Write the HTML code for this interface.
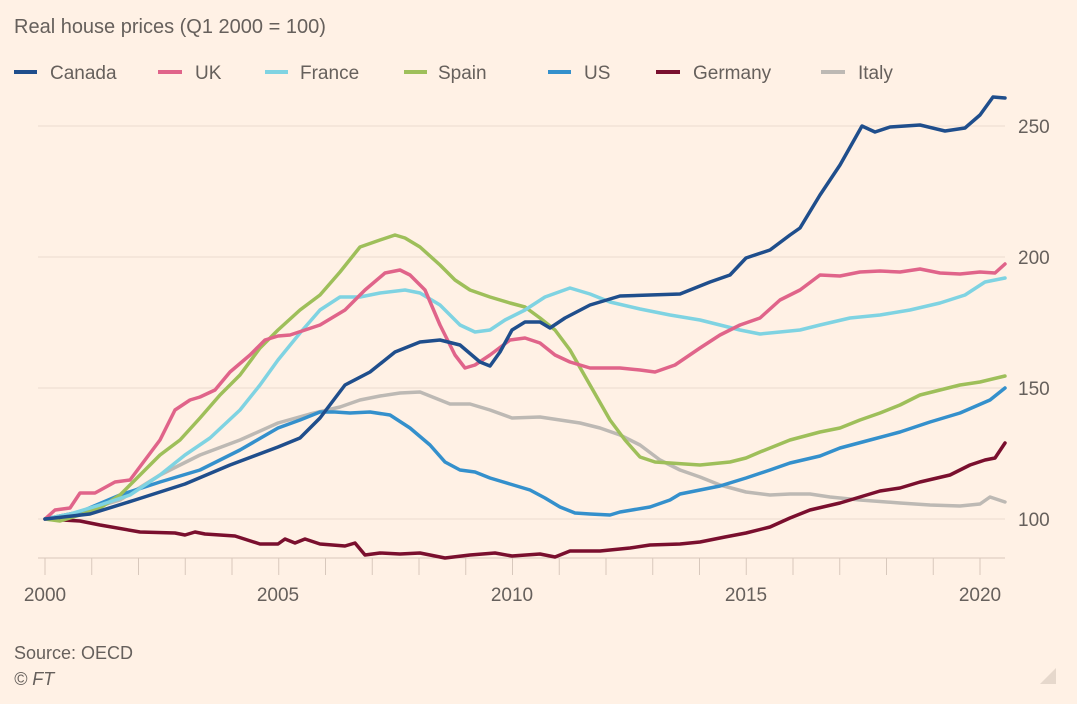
<!DOCTYPE html>
<html><head><meta charset="utf-8"><style>
body{margin:0;background:#fff1e5;}
svg{display:block;font-family:"Liberation Sans",sans-serif;}
</style></head><body>
<svg width="1077" height="704" viewBox="0 0 1077 704">
<rect width="1077" height="704" fill="#fff1e5"/>
<text x="14" y="33" font-size="20" fill="#66605c">Real house prices (Q1 2000 = 100)</text>
<g font-size="19" fill="#66605c">
<line x1="14" y1="72" x2="37" y2="72" stroke="#1f4e8c" stroke-width="4"/><text x="50" y="79">Canada</text>
<line x1="158" y1="72" x2="182" y2="72" stroke="#e0648a" stroke-width="4"/><text x="195" y="79">UK</text>
<line x1="265" y1="72" x2="288" y2="72" stroke="#7fd3e2" stroke-width="4"/><text x="300" y="79">France</text>
<line x1="404" y1="72" x2="427" y2="72" stroke="#9ebf5a" stroke-width="4"/><text x="438" y="79">Spain</text>
<line x1="548" y1="72" x2="571" y2="72" stroke="#3490cc" stroke-width="4"/><text x="584" y="79">US</text>
<line x1="656" y1="72" x2="680" y2="72" stroke="#7a0f2e" stroke-width="4"/><text x="693" y="79">Germany</text>
<line x1="821" y1="72" x2="845" y2="72" stroke="#bdb9b4" stroke-width="4"/><text x="858" y="79">Italy</text>
</g>
<g stroke="#ebdcd0" stroke-width="1">
<line x1="38" y1="126" x2="1005" y2="126"/><line x1="38" y1="257" x2="1005" y2="257"/>
<line x1="38" y1="388" x2="1005" y2="388"/><line x1="38" y1="519" x2="1005" y2="519"/>
</g>
<line x1="38" y1="558" x2="1005" y2="558" stroke="#d8c8bc" stroke-width="1"/>
<g id="ticks" stroke="#d8c8bc" stroke-width="1"></g>
<g font-size="19" fill="#66605c">
<text x="1018" y="133">250</text><text x="1018" y="264">200</text><text x="1018" y="395">150</text><text x="1018" y="526">100</text>
</g>
<g font-size="19" fill="#66605c" text-anchor="middle">
<text x="45" y="601">2000</text><text x="278" y="601">2005</text><text x="512" y="601">2010</text><text x="746" y="601">2015</text><text x="980" y="601">2020</text>
</g>
<g fill="none" stroke-width="3.5" stroke-linejoin="round" stroke-linecap="round">
<polyline stroke="#bdb9b4" points="45,519 80,512 120,500 160,475 200,455 240,440 278,423 310,414 340,407 360,400 380,396 400,393 420,392 435,398 450,404 470,404 490,410 512,418 540,417 560,420 580,423 600,428 620,435 640,445 660,460 680,470 700,477 720,485 746,492 770,495 790,494 810,494 830,497 860,500 900,503 930,505 960,506 980,504 990,497 1005,502"/>
<polyline stroke="#7a0f2e" points="45,519 80,521 100,525 140,532 175,533 185,535 195,532 205,534 235,536 260,544 278,544 285,539 295,543 305,539 320,544 345,546 355,543 365,555 380,553 400,554 420,553 445,558 470,555 495,553 512,556 540,554 555,557 570,551 600,551 630,548 650,545 680,544 700,542 725,537 746,533 770,527 790,518 810,510 840,503 860,497 880,491 900,488 920,482 950,475 970,465 985,460 995,458 1005,443"/>
<polyline stroke="#3490cc" points="45,519 80,512 120,495 160,482 200,470 240,450 278,428 300,420 320,412 335,412 350,413 370,412 390,415 410,428 430,445 445,462 460,470 475,472 490,478 510,484 530,490 545,498 560,507 575,513 590,514 610,515 620,512 650,507 670,500 680,494 700,490 720,486 746,478 770,470 790,463 820,456 840,448 870,440 900,432 930,422 960,413 990,400 1005,388"/>
<polyline stroke="#9ebf5a" points="45,519 60,521 80,515 100,508 120,495 140,475 160,455 180,440 200,418 220,395 240,375 260,348 278,330 300,310 320,295 340,272 360,247 380,240 395,235 405,238 420,247 440,265 455,280 470,290 490,297 510,303 525,307 540,318 555,330 570,350 590,385 610,420 625,440 640,457 655,462 670,463 700,465 730,462 746,458 760,452 790,440 820,432 840,428 860,420 880,413 900,405 920,395 940,390 960,385 980,382 1005,376"/>
<polyline stroke="#7fd3e2" points="45,519 70,514 100,505 130,495 160,475 185,455 210,438 240,410 260,385 278,360 300,333 320,310 340,297 360,297 380,293 405,290 420,293 440,305 460,325 475,332 490,330 505,320 525,310 545,297 570,288 590,294 610,302 640,309 670,315 700,320 720,325 740,330 760,334 780,332 800,330 820,325 850,318 880,315 910,310 940,303 965,295 985,282 1005,278"/>
<polyline stroke="#e0648a" points="45,519 55,510 70,508 80,493 95,493 115,482 130,480 145,460 160,440 175,410 190,400 200,397 215,390 230,372 250,355 265,340 278,336 290,335 305,330 320,325 345,310 365,290 385,273 400,270 410,275 425,290 440,325 455,355 465,368 475,365 490,355 510,340 525,338 540,343 555,355 570,362 590,368 620,368 640,370 655,372 675,365 700,348 720,335 740,325 760,318 780,300 800,290 820,275 840,276 860,272 880,271 900,272 920,269 940,273 960,274 980,272 995,273 1005,264"/>
<polyline stroke="#1f4e8c" points="45,519 90,514 135,500 185,484 230,465 278,447 300,438 320,418 345,385 370,372 395,352 420,342 440,340 460,345 480,362 490,366 500,352 512,330 525,322 540,322 550,328 565,318 590,305 620,296 650,295 680,294 710,282 730,275 746,258 770,250 790,235 800,228 820,195 840,165 862,126 875,132 890,127 920,125 945,131 965,128 980,115 993,97 1005,98"/>
</g>
<text x="14" y="659" font-size="18" fill="#66605c">Source: OECD</text>
<text x="14" y="685" font-size="18" fill="#66605c" font-style="italic">© FT</text>
<polygon points="1056,668 1056,684 1040,684" fill="#e6d8cc"/>
</svg>
<script>
var g=document.getElementById('ticks'),s='';
for(var i=0;i<=21;i++){var x=45+i*46.75;if(x>1005)break;s+='<line x1="'+x+'" y1="558" x2="'+x+'" y2="575"/>';}
g.innerHTML=s;
</script>
</body></html>
